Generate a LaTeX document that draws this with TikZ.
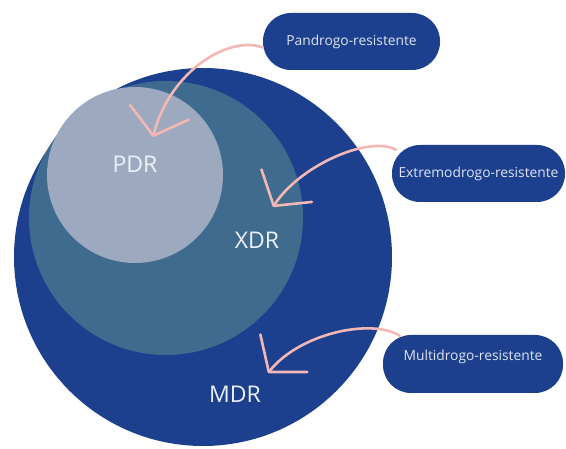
\documentclass[tikz,border=0pt]{standalone}
\usepackage{fontspec}
\setmainfont{Open Sans}
\usetikzlibrary{arrows.meta}
\definecolor{mdrblue}{HTML}{1C3F8E}
\definecolor{xdrblue}{HTML}{3F6B8E}
\definecolor{pdrgray}{HTML}{9CA9BF}
\definecolor{pinkline}{HTML}{F3B7B5}
\definecolor{labeltext}{HTML}{EEF2F8}
\definecolor{pilltextcol}{HTML}{DEE5F0}
\begin{document}
\begin{tikzpicture}[x=1pt,y=-1pt,
  disc/.style={circle,inner sep=0pt,draw=none},
  pill/.style={fill=mdrblue,rounded corners=28pt,inner sep=0pt,minimum height=57pt},
  pilllabel/.style={text=pilltextcol,font=\fontsize{13.8}{16}\selectfont},
  biglabel/.style={text=labeltext,font=\fontsize{23}{27}\selectfont,inner sep=0pt},
  pinkarrow/.style={draw=pinkline,line width=2.6pt,line cap=round,-{Straight Barb[length=24pt,width=60pt,round]}}
]
\useasboundingbox (0,0) rectangle (566,449);
\fill[white] (0,0) rectangle (566,449);
% circles
\node[disc,fill=mdrblue,minimum size=378pt] (mdr) at (203,257) {};
\node[disc,fill=xdrblue,minimum size=274pt] (xdr) at (166,218) {};
\node[disc,fill=pdrgray,minimum size=176pt] (pdr) at (135,175) {};
% labels
\node[biglabel] (lpdr) at (135,164) {PDR};
\node[biglabel] (lxdr) at (257,240) {XDR};
\node[biglabel] (lmdr) at (235,394) {MDR};
% pills
\node[pill,pilllabel,minimum width=177pt] (p1) at (351.5,41.5) {Pandrogo-resistente};
\node[pill,pilllabel,minimum width=173pt] (p2) at (478.5,173.5) {Extremodrogo-resistente};
\node[pill,minimum width=180pt,minimum height=58pt] (p3) at (473,364) {};
\node[pilllabel,inner sep=0pt] (t3) at ([yshift=7pt]p3.center) {Multidrogo-resistente};
% arrow tips
\coordinate (h1) at (153,137);
\coordinate (h2) at (273,207);
\coordinate (h3) at (268,373);
% arrows
\draw[pinkarrow] ([yshift=-6pt]p1.west) .. controls (230,35) and (170,70) .. (h1);
\draw[pinkarrow] ([xshift=4pt,yshift=-5pt]p2.north west) .. controls (370,135) and (300,165) .. (h2);
\draw[pinkarrow] ([xshift=17pt,yshift=-1pt]p3.north west) .. controls (372,318) and (300,333) .. (h3);
\end{tikzpicture}
\end{document}
